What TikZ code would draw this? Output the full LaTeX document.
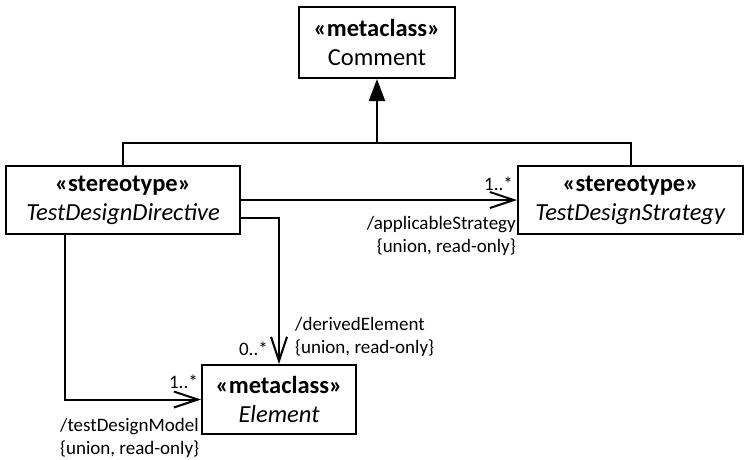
\documentclass[tikz,border=0pt]{standalone}
\usepackage{fontspec}
\setmainfont{Carlito}
\usetikzlibrary{arrows.meta,calc}
\begin{document}
\begin{tikzpicture}[x=1pt,y=-1pt,
  cls/.style={draw,line width=2pt,rectangle,align=center,inner sep=0pt,font=\fontsize{24.5}{29}\selectfont},
  conn/.style={line width=2pt},
  nav/.style={conn,-{Straight Barb[length=24pt,width=16pt,line width=2pt]}},
  gen/.style={conn,-{Triangle[length=22pt,width=16pt]}},
  lbl/.style={inner sep=0pt,font=\fontsize{19}{23.5}\selectfont,align=left}]
\useasboundingbox (0,0) rectangle (745,459);
\node[cls,minimum width=156pt,minimum height=71pt] (comment) at (377,42.5) {\textbf{«metaclass»}\\Comment};
\node[cls,minimum width=234pt,minimum height=68pt] (tdd) at (123,200) {\textbf{«stereotype»}\\\textit{TestDesignDirective}};
\node[cls,minimum width=225pt,minimum height=68pt] (tds) at (630.5,200) {\textbf{«stereotype»}\\\textit{TestDesignStrategy}};
\node[cls,minimum width=154pt,minimum height=69pt] (elem) at (279,399.5) {\textbf{«metaclass»}\\\textit{Element}};
\coordinate (j) at (377,143);
\coordinate (d1) at (240,218);
\coordinate (d2) at (279,218);
\coordinate (t1) at (65,234);
\draw[conn] (tdd.north) |- (j) -| (tds.north);
\draw[gen] (j) -- (comment.south);
\draw[nav] (tdd.east) -- (tds.west);
\draw[nav] (d1) -- (d2) -- (elem.north);
\draw[nav] (t1) |- (elem.west);
\node[lbl,anchor=south east] (m1) at (513,191) {1..*};
\node[lbl,anchor=north east,align=right] (r1) at (516,216) {/applicableStrategy\\\{union, read-only\}};
\node[lbl,anchor=south west] (r2) at (295,357) {/derivedElement\\\{union, read-only\}};
\node[lbl,anchor=south east] (m2) at (268,356) {0..*};
\node[lbl,anchor=south east] (m3) at (198,389) {1..*};
\node[lbl,anchor=north west] (r3) at (60,418) {/testDesignModel\\\{union, read-only\}};
\end{tikzpicture}
\end{document}
